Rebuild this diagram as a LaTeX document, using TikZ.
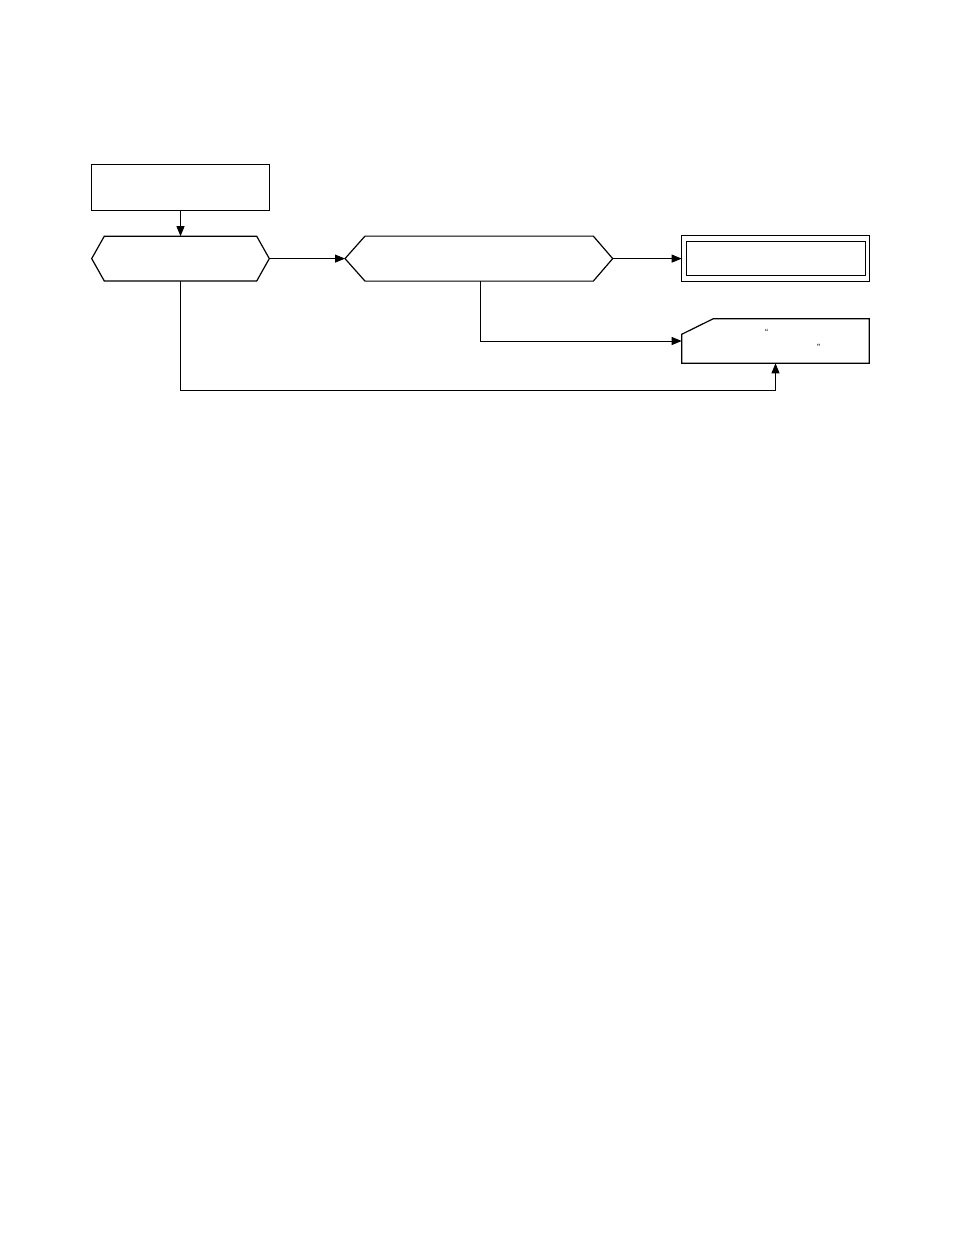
\documentclass[tikz,border=0pt]{standalone}
\usepackage{fontspec}
\setmainfont{Liberation Sans}
\usetikzlibrary{arrows.meta}
\begin{document}
\begin{tikzpicture}[x=1bp,y=-1bp,
  shp/.style={draw=black, line width=1.2bp, line join=miter},
  ghost/.style={inner sep=0pt, outer sep=0pt},
  conn/.style={draw=black, line width=0.85bp},
  arr/.style={conn, -{Triangle[length=10bp,width=8bp]}},
  quote/.style={inner sep=0pt, font=\fontsize{9}{10}\selectfont}]
\useasboundingbox (0,0) rectangle (954,1244);
% start box
\node[shp, ghost, minimum width=177.6bp, minimum height=45.6bp] (start) at (180.5,187.5) {};
% hexagon 1
\node[ghost, minimum width=177.6bp, minimum height=44.8bp] (hex1) at (180.5,258.6) {};
\draw[shp] (hex1.west) -- ([shift={(12.6,0)}]hex1.north west) -- ([shift={(-12.6,0)}]hex1.north east)
  -- (hex1.east) -- ([shift={(-12.6,0)}]hex1.south east) -- ([shift={(12.6,0)}]hex1.south west) -- cycle;
% hexagon 2
\node[ghost, minimum width=267.7bp, minimum height=45bp] (hex2) at (478.85,258.6) {};
\draw[shp] (hex2.west) -- ([shift={(20,0)}]hex2.north west) -- ([shift={(-19.4,0)}]hex2.north east)
  -- (hex2.east) -- ([shift={(-19.4,0)}]hex2.south east) -- ([shift={(20,0)}]hex2.south west) -- cycle;
% double box
\node[shp, ghost, minimum width=187.6bp, minimum height=46.4bp] (final) at (775.5,258.6) {};
\draw[draw=black, line width=0.9bp] ([shift={(4.3,6)}]final.north west) rectangle ([shift={(-4.3,-6)}]final.south east);
% card
\node[ghost, minimum width=187.6bp, minimum height=44.6bp] (card) at (775.5,341) {};
\draw[shp] ([shift={(0,15.6)}]card.north west) -- ([shift={(31.6,0)}]card.north west) -- (card.north east)
  -- (card.south east) -- (card.south west) -- cycle;
\node[quote] (q1) at (766.7,332.5) {“};
\node[quote] (q2) at (818.7,347) {”};
% connectors
\coordinate (loop) at (180.5,390.7);
\draw[arr] (start.south) -- (hex1.north);
\draw[arr] (hex1.east) -- (hex2.west);
\draw[arr] (hex2.east) -- (final.west);
\draw[arr] ([xshift=1.15bp]hex2.south) |- (card.west);
\draw[arr] (hex1.south) -- (loop) -| (card.south);
\end{tikzpicture}
\end{document}
